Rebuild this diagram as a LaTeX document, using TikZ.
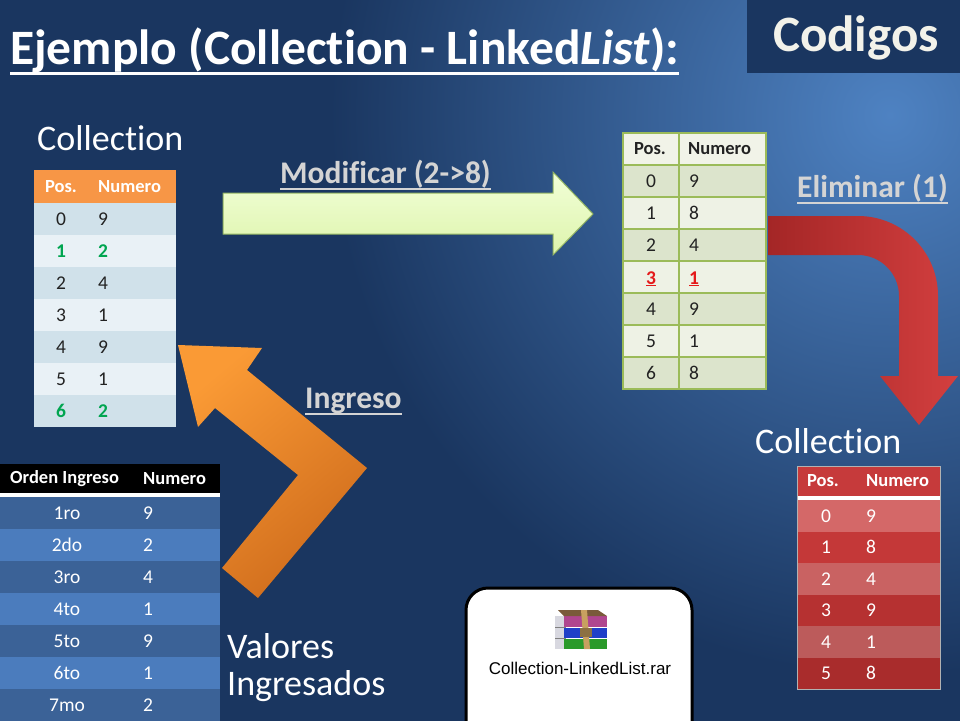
\documentclass[tikz,border=0pt]{standalone}
\usepackage{fontspec}
\setmainfont{Carlito}[Ligatures=CommonOff]
\newfontfamily\rarfont{Liberation Sans}
\definecolor{bgdark}{HTML}{1A3660}
\definecolor{bglight}{HTML}{4E82C2}
\definecolor{codtxt}{HTML}{F2F2EA}
\definecolor{lblgray}{HTML}{D4D4D4}
\definecolor{lhead}{HTML}{F79646}
\definecolor{lrowA}{HTML}{D0E1EA}
\definecolor{lrowB}{HTML}{E9F1F6}
\definecolor{lgreen}{HTML}{00A550}
\definecolor{ltxt}{HTML}{222222}
\definecolor{mhead}{HTML}{F1F3E8}
\definecolor{mrowA}{HTML}{DCE4CC}
\definecolor{mrowB}{HTML}{EEF2E5}
\definecolor{mgrid}{HTML}{9BBB59}
\definecolor{mred}{HTML}{E41A1A}
\definecolor{rhead}{HTML}{C63A3B}
\definecolor{rr0}{HTML}{D46868}
\definecolor{rr1}{HTML}{C43838}
\definecolor{rr2}{HTML}{C96262}
\definecolor{rr3}{HTML}{B63131}
\definecolor{rr4}{HTML}{BC5B5B}
\definecolor{rr5}{HTML}{A92C2C}
\definecolor{browA}{HTML}{3B6297}
\definecolor{browB}{HTML}{4B7CBD}
\definecolor{grnlight}{HTML}{F2FFD8}
\definecolor{grndark}{HTML}{DDF4AC}
\definecolor{grnedge}{HTML}{93B462}
\definecolor{redA}{HTML}{A42626}
\definecolor{redB}{HTML}{D33F3F}
\definecolor{oraA}{HTML}{FA9A35}
\definecolor{oraB}{HTML}{CF6C1C}
\definecolor{rarpage}{HTML}{D8D8E0}
\definecolor{rarmag}{HTML}{B0468F}
\definecolor{rarblue}{HTML}{2040C8}
\definecolor{rargreen}{HTML}{2A9A2A}
\definecolor{rarbrown}{HTML}{7A5A3A}
\definecolor{rartan}{HTML}{C8A060}
\tikzset{
  cell/.style={inner sep=0pt, font=\fontsize{19.5}{19.5}\selectfont},
  hcell/.style={inner sep=0pt, font=\bfseries\fontsize{18.5}{19}\selectfont},
  lbl/.style={inner sep=0pt, anchor=base west, text=lblgray, font=\bfseries\fontsize{31.5}{31.5}\selectfont},
  ulline/.style={draw=lblgray, line width=2pt},
  bigtxt/.style={inner sep=0pt, anchor=base west, text=white, font=\fontsize{36}{37}\selectfont},
}
\begin{document}
\begin{tikzpicture}[x=1pt,y=-1pt]
\useasboundingbox (0,0) rectangle (960,720);
\begin{scope}
\clip (0,0) rectangle (960,720);
\fill[bgdark] (-5,-5) rectangle (965,725);
\shade[inner color=bglight, outer color=bgdark] (890,115) circle (560);
% Codigos box
\fill[bgdark] (747,0) rectangle (960,73);
\node[inner sep=0pt, text=codtxt, font=\bfseries\fontsize{51}{51}\selectfont] (codigos) at (856,38) {Codigos};
% title
\node[inner sep=0pt, anchor=base west, text=white, font=\bfseries\fontsize{49.5}{49.5}\selectfont] (title) at (10,64) {Ejemplo (Collection - Linked\textit{List}):};
\draw[white, line width=3pt] ([yshift=-9pt]title.base west) -- ([yshift=-9pt]title.base east);

% ---------- arrows
% Modificar (green straight arrow)
\shade[top color=grnlight, bottom color=grndark, draw=grnedge, line width=1pt]
  (223,193) -- (553,193) -- (553,172) -- (593,214) -- (553,255) -- (553,234) -- (223,234) -- cycle;
% Eliminar (red bent arrow)
\shade[left color=redA, right color=redB]
  (768,216) -- (858,216) arc[start angle=-90, end angle=0, radius=80] -- (938,376) -- (958,376)
  -- (919,425) -- (880,376) -- (899,376) -- (899,296) arc[start angle=0, end angle=-90, radius=41]
  -- (768,255) -- cycle;
% Ingreso (orange chevron arrow)
\shade[top color=oraA, bottom color=oraB, shading angle=40]
  (178,345) -- (262,348) -- (247,370) -- (367,468) -- (258,598) -- (222,568) -- (298,475)
  -- (215,408) -- (198,427) -- cycle;

% ---------- labels
\node[lbl] (modlbl) at (280,183) {Modificar (2->8)};
\draw[ulline] ([yshift=-6pt]modlbl.base west) -- ([yshift=-6pt]modlbl.base east);
\node[lbl] (elilbl) at (797,197) {Eliminar (1)};
\draw[ulline] ([yshift=-6pt]elilbl.base west) -- ([yshift=-6pt]elilbl.base east);
\node[lbl] (inglbl) at (305,408) {Ingreso};
\draw[ulline] ([yshift=-6pt]inglbl.base west) -- ([yshift=-6pt]inglbl.base east);

\node[bigtxt] (coll1) at (37,150) {Collection};
\node[bigtxt] (coll2) at (755,453) {Collection};
\node[bigtxt, align=left] (valores) at (227,695) {Valores\\Ingresados};

% ---------- left table (Collection, orange)
\fill[lhead] (34,170) rectangle (176,203);
\node[hcell, text=white] (LH-a) at (61,186.5) {Pos.};
\node[hcell, text=white, anchor=west] (LH-b) at (98,186.5) {Numero};
\foreach \p/\n/\c/\tc/\w in {0/9/lrowA/ltxt/\relax, 1/2/lrowB/lgreen/\bfseries, 2/4/lrowA/ltxt/\relax,
  3/1/lrowB/ltxt/\relax, 4/9/lrowA/ltxt/\relax, 5/1/lrowB/ltxt/\relax, 6/2/lrowA/lgreen/\bfseries}{
  \fill[\c] (34,{203+32*\p}) rectangle (176,{235+32*\p});
  \node[cell, text=\tc] (L\p-a) at (61,{219+32*\p}) {\w\p};
  \node[cell, text=\tc, anchor=west] (L\p-b) at (98,{219+32*\p}) {\w\n};
}

% ---------- middle table (green grid)
\fill[mhead] (623,133) rectangle (766,165);
\foreach \p/\c in {0/mrowA,1/mrowB,2/mrowA,3/mrowB,4/mrowA,5/mrowB,6/mrowA}{
  \fill[\c] (623,{165+32*\p}) rectangle (766,{197+32*\p});
}
\foreach \yy in {165,197,229,261,293,325,357}{
  \draw[mgrid, line width=1.2pt] (623,\yy) -- (766,\yy);
}
\draw[mgrid, line width=1.2pt] (679,133) -- (679,389);
\draw[mgrid, line width=1.5pt] (623,133) rectangle (766,389);
\node[hcell, text=ltxt] (MH-a) at (650,149) {Pos.};
\node[hcell, text=ltxt, anchor=west] (MH-b) at (688,149) {Numero};
\foreach \p/\n in {0/9,1/8,2/4,4/9,5/1,6/8}{
  \node[cell, text=ltxt] (M\p-a) at (651,{181+32*\p}) {\p};
  \node[cell, text=ltxt, anchor=west] (M\p-b) at (689,{181+32*\p}) {\n};
}
\node[cell, text=mred, anchor=base] (M3-a) at (651,284) {\bfseries\underline{3}};
\node[cell, text=mred, anchor=base west] (M3-b) at (689,284) {\bfseries\underline{1}};

% ---------- right table (red)
\fill[rhead] (797,466) rectangle (940,496);
\fill[white] (797,496) rectangle (940,500);
\foreach \p/\n/\c in {0/9/rr0,1/8/rr1,2/4/rr2,3/9/rr3,4/1/rr4,5/8/rr5}{
  \fill[\c] (797,{500+31.5*\p}) rectangle (940,{531.5+31.5*\p});
  \node[cell, text=white] (R\p-a) at (826,{515.75+31.5*\p}) {\p};
  \node[cell, text=white, anchor=west] (R\p-b) at (866,{515.75+31.5*\p}) {\n};
}
\draw[gray!60, line width=1pt] (797,466) rectangle (940,689);
\node[hcell, text=white] (RH-a) at (823,481) {Pos.};
\node[hcell, text=white, anchor=west] (RH-b) at (866,481) {Numero};

% ---------- bottom-left table (blue)
\fill[black] (0,464) rectangle (220,493);
\fill[white] (0,493) rectangle (220,497);
\node[hcell, text=white, anchor=west] (BH-a) at (10,478.5) {Orden Ingreso};
\node[hcell, text=white, anchor=west] (BH-b) at (143,478.5) {Numero};
\foreach \p/\o/\n/\c in {0/1ro/9/browA,1/2do/2/browB,2/3ro/4/browA,3/4to/1/browB,4/5to/9/browA,5/6to/1/browB,6/7mo/2/browA}{
  \fill[\c] (0,{497+32*\p}) rectangle (220,{529+32*\p});
  \node[cell, text=white] (B\p-a) at (67,{513+32*\p}) {\o};
  \node[cell, text=white, anchor=west] (B\p-b) at (143,{513+32*\p}) {\n};
}

% ---------- rar file box
\draw[black, line width=3pt, fill=white, rounded corners=22pt] (466,588) rectangle (692,745);
\fill[rarpage] (555,616) rectangle (566,649);
\fill[rarmag] (564,616) rectangle (607,627);
\fill[rarblue] (564,628) rectangle (607,638);
\fill[rargreen] (564,639) rectangle (607,649);
\draw[gray, line width=0.6pt] (555,627.5) -- (566,627.5) (555,638.5) -- (566,638.5);
\fill[rarbrown] (558,610) -- (598,610) -- (607,616) -- (564,616) -- cycle;
\fill[rartan] (581,610) -- (587,610) -- (590,649) -- (584,649) -- cycle;
\fill[rartan!70!black] (580,628) rectangle (592,637);
\node[inner sep=0pt, anchor=base, text=black, font=\rarfont\fontsize{17}{17}\selectfont] (rartxt) at (580,674) {Collection-LinkedList.rar};
\end{scope}
\end{tikzpicture}
\end{document}
